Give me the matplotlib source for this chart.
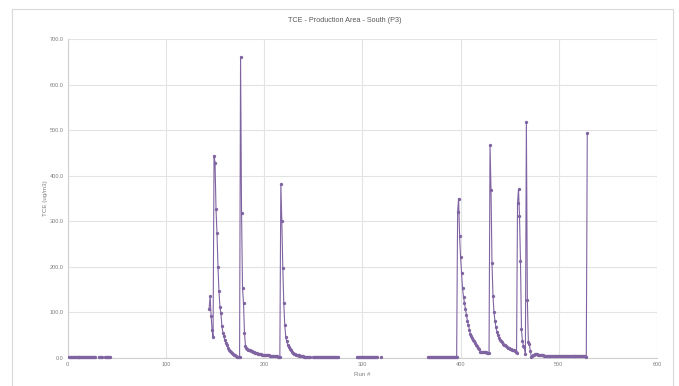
import numpy as np
import matplotlib
matplotlib.use('Agg')
from matplotlib import pyplot as plt
from matplotlib.patches import Rectangle

# TCE values, stored as (first run #, values) blocks of
# consecutive runs. Runs not covered by any block are blank (gaps in the line).
base_a = (1, [1.6, 1.5, 1.5, 1.6, 1.5, 1.4, 1.5, 1.5, 1.6, 1.5, 1.5, 1.4, 1.5, 1.5,
              1.6, 1.5, 1.5, 1.5, 1.4, 1.5, 1.5, 1.6, 1.5, 1.5, 1.5, 1.4, 1.5, 1.5])
base_b = (32, [1.5, 1.5, 1.6, 1.5])
base_c = (38, [1.5, 1.5, 1.4, 1.5, 1.5, 1.5])
peak_1 = (144, [108, 135, 92, 61, 45, 444, 429, 326, 275, 200, 147, 111, 98, 70, 55,
                48, 38, 32, 27, 22, 18, 15, 12, 10, 8, 6, 5, 4, 2, 1, 1, 1])
peak_2 = (176, [661, 319, 153, 120, 55, 25, 22, 20, 18, 17, 16, 15, 14, 13, 12, 11,
                10, 10, 9, 9, 8, 8, 7, 7, 6, 6, 6, 5, 5, 5, 4, 4, 4, 4, 3, 3, 3, 3,
                2, 2, 2])
peak_3 = (217, [382, 301, 198, 120, 72, 46, 36, 28, 23, 19, 16, 13, 11, 9, 8, 7, 6,
                5, 5, 4, 4, 3, 3, 3, 2, 2, 2, 2, 2, 1.5, 1.5])
base_e = (250, [1.5, 1.5, 1.6, 1.5, 1.5, 1.5, 1.4, 1.5, 1.5, 1.5, 1.6, 1.5, 1.5,
                1.5, 1.5, 1.4, 1.5, 1.5, 1.5, 1.6, 1.5, 1.5, 1.5, 1.5, 1.4, 1.5])
base_f = (295, [1.5, 1.5, 1.6, 1.5, 1.5, 1.5, 1.4, 1.5, 1.5, 1.5, 1.6, 1.5, 1.5,
                1.5, 1.5, 1.4, 1.5, 1.5, 1.5, 1.6, 1.5])
base_g = (319, [1.5])
base_h = (367, [1.5, 1.5, 1.6, 1.5, 1.5, 1.5, 1.4, 1.5, 1.5, 1.5, 1.6, 1.5, 1.5,
                1.5, 1.5, 1.4, 1.5, 1.5, 1.5, 1.6, 1.5, 1.5, 1.5, 1.5, 1.4, 1.5,
                1.5, 1.5, 1.5, 1.5])
peak_4 = (397, [321, 350, 268, 221, 186, 153, 133, 120, 107, 94, 81, 72, 61, 52, 48,
                43, 39, 36, 32, 28, 25, 21, 19, 12, 12, 13, 13, 13, 12, 12, 11, 11, 10])
peak_5 = (430, [467, 368, 208, 136, 100, 81, 68, 57, 50, 43, 40, 37, 34, 31, 29, 27,
                25, 23, 22, 21, 20, 19, 18, 17, 16, 14, 12, 11])
peak_6 = (458, [340, 370, 312, 213, 62, 37, 26, 23, 8])
peak_7 = (467, [518, 127, 35, 30, 15, 2])
tail = (473, [4, 6, 7, 8, 8, 8, 7, 7, 6, 6, 5, 5, 4, 4, 4, 4, 4, 3, 3, 3, 3, 3, 3,
              3, 3, 3, 3, 3, 3, 3, 3, 3, 3, 3, 3, 3, 3, 3, 3, 3, 3, 3, 3, 3, 3,
              3, 3, 3, 3, 3, 3, 3, 3, 3, 3])
last = (528, [2, 494])

blocks = [base_a, base_b, base_c, peak_1, peak_2, peak_3, base_e, base_f, base_g,
          base_h, peak_4, peak_5, peak_6, peak_7, tail, last]

runs = np.arange(1, 530)
tce = np.full(len(runs), np.nan)
for start, vals in blocks:
    n = min(len(vals), len(runs) - (start - 1))
    tce[start - 1:start - 1 + n] = vals[:n]

xticks = [0, 100, 200, 300, 400, 500, 600]
yticks = [0, 100, 200, 300, 400, 500, 600, 700]

plt.rcParams['font.family'] = ['Liberation Sans Narrow', 'Liberation Sans', 'DejaVu Sans']

fig = plt.figure(figsize=(6.79, 3.86), dpi=100)
# chart area border
fig.patches.append(Rectangle((12 / 679, -2 / 386), 661 / 679, 379 / 386,
                             transform=fig.transFigure, fill=False,
                             edgecolor='#d9d9d9', linewidth=0.8))

ax = fig.add_axes([67.7 / 679, 1 - 357.7 / 386, (657 - 67.7) / 679, (357.7 - 39.3) / 386])

ax.plot(runs, tce, color='#8064A2', linewidth=0.8, marker='o', markersize=2.4,
        markeredgewidth=0, zorder=3, clip_on=False)

ax.set_xlim(0, 600)
ax.set_ylim(0, 700)
ax.set_xticks(xticks)
ax.set_yticks(yticks)
ax.set_xticklabels([str(t) for t in xticks])
ax.set_yticklabels(['%.1f' % t for t in yticks])
ax.tick_params(length=0, labelsize=4, colors='#7f7f7f', pad=3)
ax.grid(True, color='#e3e3e3', linewidth=0.8)
ax.set_axisbelow(True)
for s in ['top', 'right']:
    ax.spines[s].set_visible(False)
for s in ['left', 'bottom']:
    ax.spines[s].set_color('#d0d0d0')
    ax.spines[s].set_linewidth(0.8)

ax.set_xlabel('Run #', fontsize=4.5, color='#7f7f7f', labelpad=4)
ax.set_ylabel('TCE (ug/m3)', fontsize=4.5, color='#7f7f7f', labelpad=1)
fig.text(344.5 / 679, 1 - 20 / 386, 'TCE - Production Area - South (P3)',
         ha='center', va='center', fontsize=5.2, color='#595959')

fig.savefig('out.png', dpi=100)
